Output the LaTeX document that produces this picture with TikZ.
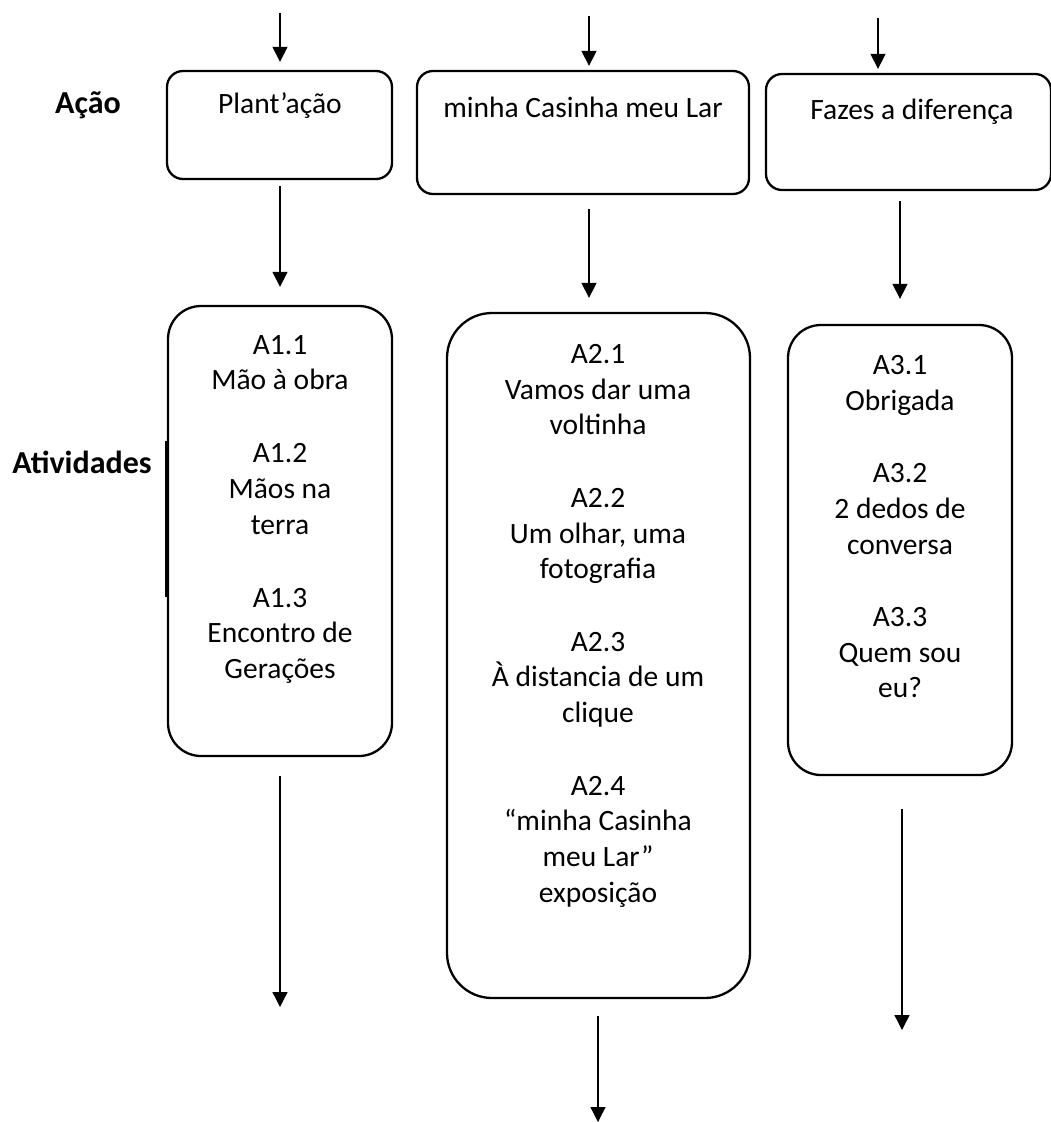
\documentclass[tikz,border=0pt]{standalone}
\usepackage{fontspec}
\setmainfont{Carlito}
\usetikzlibrary{arrows.meta,positioning}

\begin{document}
\begin{tikzpicture}[x=1pt,y=-1pt,
  caixa/.style={draw,line width=2.3pt,rounded corners=#1,inner sep=0pt},
  caixa/.default=16pt,
  txt/.style={font=\fontsize{29.5}{35.8}\selectfont,align=center,inner sep=0pt},
  titulo/.style={font=\fontsize{32}{36}\selectfont\bfseries,inner sep=0pt,anchor=base},
  seta/.style={line width=1.3pt,-{Triangle[width=15pt,length=15pt]}}]
\useasboundingbox (0,0) rectangle (1050,1122);

% linha das acoes
\node[caixa,minimum width=225pt,minimum height=108pt] (acao1) at (279.5,125) {};
\node[caixa,minimum width=332pt,minimum height=123pt] (acao2) at (583,132.5) {};
\node[caixa,minimum width=285pt,minimum height=116pt] (acao3) at (908.5,132) {};

\node[txt,anchor=base] (nome1) at (280,113) {Plant’ação};
\node[txt,anchor=base] (nome2) at (583,117) {minha Casinha meu Lar};
\node[txt,anchor=base] (nome3) at (912,119) {Fazes a diferença};

% caixas das atividades
\node[caixa=33pt,minimum width=224pt,minimum height=450pt] (ativ1) at (280,531) {};
\node[caixa=45pt,minimum width=303pt,minimum height=685pt] (ativ2) at (598.5,655.5) {};
\node[caixa=33pt,minimum width=224pt,minimum height=450pt] (ativ3) at (900,550) {};

\node[txt,anchor=north] (lista1) at (280,335) {A1.1\\Mão à obra\\[37pt]A1.2\\Mãos na\\terra\\[37pt]A1.3\\Encontro de\\Gerações};
\node[txt,anchor=north] (lista2) at (598,344) {A2.1\\Vamos dar uma\\voltinha\\[36.5pt]A2.2\\Um olhar, uma\\fotografia\\[36.5pt]A2.3\\À distancia de um\\clique\\[36.5pt]A2.4\\“minha Casinha\\meu Lar”\\exposição};
\node[txt,anchor=north] (lista3) at (900,355) {A3.1\\Obrigada\\[36.5pt]A3.2\\2 dedos de\\conversa\\[36.5pt]A3.3\\Quem sou\\eu?};

% titulos a esquerda
\node[titulo] (tacao) at (88,113) {Ação};
\node[titulo] (tativ) at (82,473) {Atividades};
\draw[line width=3.5pt] ([yshift=-136pt]ativ1.north west) -- ([yshift=-292pt]ativ1.north west);

% setas
\coordinate (ent1) at (280,13);
\coordinate (ent2) at (589,16);
\coordinate (ent3) at (878,18);
\coordinate (sai1) at (280,1007);
\coordinate (sai2) at (598,1122);
\coordinate (sai3) at (902,1030);

\draw[seta] (ent1) -- ([yshift=8pt]ent1 |- acao1.north);
\draw[seta] (ent2) -- ([yshift=4pt]ent2 |- acao2.north);
\draw[seta] (ent3) -- ([yshift=4pt]ent3 |- acao3.north);

\draw[seta] ([yshift=-6pt]ent1 |- acao1.south) -- ([yshift=18pt]ent1 |- ativ1.north);
\draw[seta] ([yshift=-14pt]ent2 |- acao2.south) -- ([yshift=14pt]ent2 |- ativ2.north);
\draw[seta] ([yshift=-10pt]ativ3.north |- acao3.south) -- ([yshift=25pt]ativ3.north);

\draw[seta] ([yshift=-19pt]sai1 |- ativ1.south) -- (sai1);
\draw[seta] ([yshift=-17pt]sai2 |- ativ2.south) -- (sai2);
\draw[seta] ([yshift=-33pt]sai3 |- ativ3.south) -- (sai3);

\end{tikzpicture}
\end{document}
